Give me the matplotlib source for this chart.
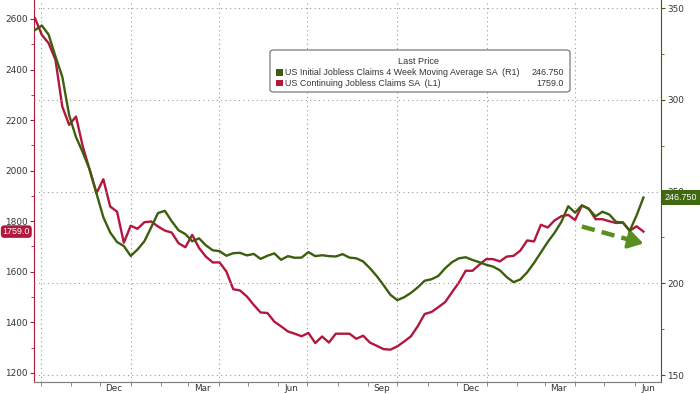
import numpy as np
import pandas as pd
import matplotlib.pyplot as plt
import matplotlib.dates as mdates
import matplotlib.transforms as mtrans
from matplotlib.patches import FancyBboxPatch, Rectangle
from matplotlib.ticker import MultipleLocator

# weekly observations, Sep 2021 - Jun 2023
dates = pd.date_range('2021-09-25', periods=90, freq='7D')

# US Continuing Jobless Claims SA (thousands, left axis)
continuing = [
    2603, 2537, 2504, 2438, 2253, 2181, 2214, 2095, 2003, 1911,
    1966, 1858, 1838, 1715, 1782, 1770, 1796, 1799, 1779, 1763,
    1755, 1713, 1697, 1746, 1694, 1660, 1637, 1637, 1601, 1531,
    1526, 1502, 1469, 1439, 1437, 1403, 1384, 1364, 1355, 1345,
    1358, 1318, 1344, 1320, 1355, 1355, 1355, 1335, 1347, 1320,
    1307, 1294, 1292, 1305, 1324, 1345, 1385, 1433, 1441, 1460,
    1480, 1519, 1557, 1604, 1604, 1628, 1650, 1650, 1641, 1660,
    1663, 1684, 1724, 1720, 1786, 1775, 1803, 1820, 1825, 1805,
    1862, 1850, 1808, 1808, 1800, 1793, 1795, 1762, 1780, 1759,
]

# US Initial Jobless Claims 4 Week Moving Average SA (thousands, right axis)
initial_4wk = [
    338.0, 340.5, 335.5, 323.6, 312.5, 291.6, 279.7, 271.3, 262.0, 248.9,
    236.0, 227.7, 222.5, 220.3, 214.9, 218.4, 222.9, 230.5, 238.3, 239.5,
    233.8, 228.9, 226.8, 222.9, 224.5, 220.7, 218.0, 217.5, 215.0, 216.4,
    216.6, 215.2, 216.0, 213.3, 215.0, 216.3, 212.8, 214.8, 213.9, 214.0,
    217.0, 214.8, 215.3, 214.8, 214.6, 215.9, 214.0, 213.6, 211.9, 208.2,
    203.9, 198.9, 193.7, 190.8, 192.4, 194.8, 197.8, 201.4, 202.2, 204.0,
    208.2, 211.5, 213.6, 214.2, 212.7, 211.5, 210.1, 209.1, 207.1, 203.4,
    200.6, 202.1, 206.0, 211.1, 216.8, 222.5, 227.5, 233.5, 242.0, 238.5,
    242.5, 240.5, 236.5, 239.0, 237.5, 233.5, 233.1, 228.6, 237.0, 246.75,
]

RED = '#b3173d'
GREEN = '#3c5f0e'
ARROW = '#5a8e1e'
GRID = '#9a9a9a'
TXT = '#333333'
FS = 6.4
LEGFONT = 'Liberation Sans'

fig = plt.figure(figsize=(7, 3.94), dpi=100)
ax = fig.add_axes([34 / 700, 12 / 394, 627 / 700, 382 / 394])
ax2 = ax.twinx()

ax.plot(dates, continuing, color=RED, lw=1.7, zorder=3)
ax2.plot(dates, initial_4wk, color=GREEN, lw=1.7, zorder=3)

ax.set_xlim(pd.Timestamp('2021-09-24'), pd.Timestamp('2023-06-28'))
ax.set_ylim(1164, 2675)
ax2.set_ylim(146.2, 354.4)

# grid: horizontal on right-axis ticks, vertical at quarter starts
ax2.yaxis.set_major_locator(MultipleLocator(50))
ax2.yaxis.set_minor_locator(MultipleLocator(25))
ax2.grid(axis='y', color=GRID, linestyle=(0, (1, 3)), lw=0.8)
for d in pd.date_range('2021-10-01', '2023-04-01', freq='QS-JAN'):
    ax.axvline(d, color=GRID, linestyle=(0, (1, 3)), lw=0.8, zorder=1)

# x axis: labels mid-month, small ticks at month starts
ax.xaxis.set_major_locator(mdates.MonthLocator(bymonth=[3, 6, 9, 12], bymonthday=15))
ax.xaxis.set_major_formatter(mdates.DateFormatter('%b'))
ax.xaxis.set_minor_locator(mdates.MonthLocator())
ax.tick_params(axis='x', which='major', length=0, pad=1.5, labelsize=FS, labelcolor=TXT)
ax.tick_params(axis='x', which='minor', length=3, color='#777777')

ax.yaxis.set_major_locator(MultipleLocator(200))
ax.yaxis.set_minor_locator(MultipleLocator(100))
ax.tick_params(axis='y', which='both', color=RED, labelsize=FS, labelcolor=TXT, pad=1.5)
ax.tick_params(axis='y', which='major', length=3)
ax.tick_params(axis='y', which='minor', length=2)
ax2.tick_params(axis='y', which='both', color=GREEN, labelsize=FS, labelcolor=TXT, pad=1.5)
ax2.tick_params(axis='y', which='major', length=3)
ax2.tick_params(axis='y', which='minor', length=2)

for a in (ax, ax2):
    a.spines['top'].set_visible(False)
    a.spines['bottom'].set_color('#808080')
ax.spines['left'].set_color(RED)
ax2.spines['left'].set_visible(False)
ax2.spines['right'].set_color(GREEN)
ax.spines['right'].set_visible(False)

# last value tags
tl = mtrans.blended_transform_factory(ax.transAxes, ax.transData)
ax.text(-0.0064, continuing[-1], f'{continuing[-1]:.1f}', transform=tl, ha='right', va='center',
        color='white', fontsize=6.4, family=LEGFONT, zorder=10, clip_on=False,
        bbox=dict(boxstyle='round,pad=0.2,rounding_size=0.4', fc=RED, ec='none'))
tr = mtrans.blended_transform_factory(ax2.transAxes, ax2.transData)
ax2.text(1.0064, initial_4wk[-1], f'{initial_4wk[-1]:.3f}', transform=tr, ha='left', va='center',
         color='white', fontsize=6.4, family=LEGFONT, zorder=10, clip_on=False,
         bbox=dict(boxstyle='square,pad=0.3', fc='#40680f', ec='none'))

# dashed trend arrow
a0 = (dates[80], 1779)
a1 = (dates[80] + pd.Timedelta(days=54), 1721)
a2 = (dates[80] + pd.Timedelta(days=63), 1712)
ax.plot([a0[0], a1[0]], [a0[1], a1[1]], color=ARROW, lw=3.2, linestyle=(0, (3, 1.6)),
        solid_capstyle='butt', zorder=5)
ax.annotate('', xy=a2, xytext=a1,
            arrowprops=dict(arrowstyle='-|>,head_length=0.9,head_width=0.55',
                            color=ARROW, lw=2.5, shrinkA=0, shrinkB=0), zorder=5)

# legend box
box = FancyBboxPatch((270 / 700, 1 - 92 / 394), 300 / 700, 42 / 394,
                     boxstyle='round,pad=0,rounding_size=0.006', transform=fig.transFigure,
                     fc='white', ec='#7a7a7a', lw=0.9, zorder=20)
fig.add_artist(box)
fig.text(419 / 700, 1 - 62 / 394, 'Last Price', ha='center', va='center', fontsize=6.6,
         family=LEGFONT, color=TXT, zorder=21)
rows = [
    (GREEN, 'US Initial Jobless Claims 4 Week Moving Average SA  (R1)', f'{initial_4wk[-1]:.3f}', 72.5),
    (RED, 'US Continuing Jobless Claims SA  (L1)', f'{continuing[-1]:.1f}', 83),
]
for col, lab, val, yy in rows:
    fig.add_artist(Rectangle((276 / 700, 1 - (yy + 3.2) / 394), 6.5 / 700, 6.5 / 394,
                             transform=fig.transFigure, fc=col, ec='none', zorder=21))
    fig.text(285 / 700, 1 - yy / 394, lab, ha='left', va='center', fontsize=6.4,
             family=LEGFONT, color=TXT, zorder=21)
    fig.text(564 / 700, 1 - yy / 394, val, ha='right', va='center', fontsize=6.4,
             family=LEGFONT, color=TXT, zorder=21)

fig.savefig('out.png', dpi=100)
